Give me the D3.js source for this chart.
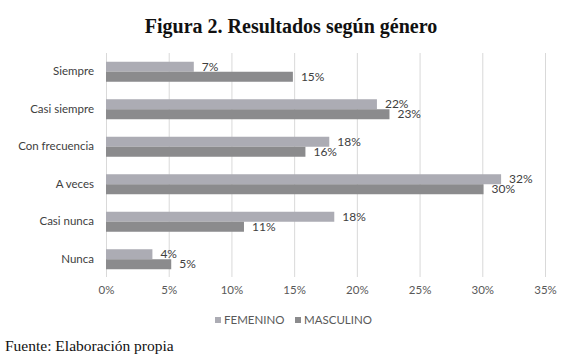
<!DOCTYPE html>
<html><head><meta charset="utf-8">
<script src="https://cdn.jsdelivr.net/npm/d3@7"></script>
<style>body{margin:0;background:#fff}svg{display:block}</style>
</head><body>
<svg id="c" width="565" height="364"></svg>
<script>
const categories = ["Siempre","Casi siempre","Con frecuencia","A veces","Casi nunca","Nunca"];
const seriesNames = ["FEMENINO","MASCULINO"];
const femenino = [7.0, 21.6, 17.8, 31.5, 18.2, 3.7];
const masculino = [14.9, 22.6, 15.9, 30.1, 11.0, 5.2];
const xTicks = [0,5,10,15,20,25,30,35];
const colors = ["#acacb4","#8b8b8d"];

const svg = d3.select("#c");
const x = d3.scaleLinear().domain([0,35]).range([106,545]);
const y = d3.scaleBand().domain(categories).range([53,278]);
const ys = d3.scaleBand().domain(seriesNames).range([0,y.bandwidth()]).paddingOuter(0.875);
const fmt = v => Math.round(v) + "%";

svg.append("text").attr("x",291).attr("y",33).attr("text-anchor","middle")
  .attr("font-family","Liberation Serif").attr("font-weight","bold").attr("font-size",20)
  .attr("fill","#111").text("Figura 2. Resultados según género");

// gridlines
svg.append("g").selectAll("line").data(xTicks).join("line")
  .attr("x1",d=>x(d)+0.5).attr("x2",d=>x(d)+0.5).attr("y1",53).attr("y2",277)
  .attr("stroke","#d9d9d9").attr("stroke-width",1);

// x axis labels
const xa = svg.append("g").attr("transform","translate(0,286)")
  .call(d3.axisBottom(x).tickValues(xTicks).tickFormat(d=>d+"%").tickSize(0).tickPadding(0));
xa.select(".domain").remove();
xa.selectAll("text").attr("font-family","Lato").attr("font-size",11.5).attr("fill","#595959").attr("dy","0.71em");

// y axis labels
const ya = svg.append("g").attr("transform","translate(94,0)")
  .call(d3.axisLeft(y).tickSize(0).tickPadding(0));
ya.select(".domain").remove();
ya.selectAll("text").attr("font-family","Lato").attr("font-size",11.5).attr("fill","#404040");

const data = [femenino, masculino];
data.forEach((vals,si)=>{
  const g = svg.append("g");
  g.selectAll("rect").data(vals).join("rect")
    .attr("x",x(0)).attr("y",(d,i)=>y(categories[i])+ys(seriesNames[si]))
    .attr("width",d=>x(d)-x(0)).attr("height",ys.bandwidth())
    .attr("fill",colors[si]);
  g.selectAll("text").data(vals).join("text")
    .attr("x",d=>x(d)+8).attr("y",(d,i)=>y(categories[i])+ys(seriesNames[si])+ys.bandwidth()/2)
    .attr("dy","0.35em").attr("font-family","Lato").attr("font-size",12).attr("fill","#404040")
    .text(fmt);
});

// legend
const leg = svg.append("g");
const legX = [215,295];
seriesNames.forEach((n,i)=>{
  leg.append("rect").attr("x",legX[i]).attr("y",317).attr("width",6).attr("height",6).attr("fill",colors[i]);
  leg.append("text").attr("x",legX[i]+9).attr("y",320).attr("dy","0.35em")
    .attr("font-family","Lato").attr("font-size",11.5).attr("fill","#595959").text(n);
});

svg.append("text").attr("x",5).attr("y",351).attr("font-family","Liberation Serif")
  .attr("font-size",15.5).attr("fill","#111").text("Fuente: Elaboración propia");
</script>
</body></html>
